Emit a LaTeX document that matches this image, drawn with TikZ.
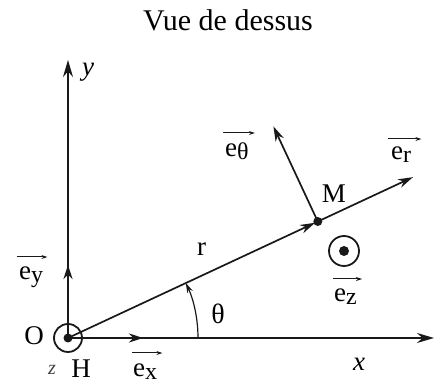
\documentclass[tikz,border=0pt]{standalone}
\usepackage{fontspec}
\setmainfont{Liberation Serif}
\usetikzlibrary{arrows.meta,calc}
\newcommand{\mysub}[1]{\raisebox{-3pt}{\fontsize{24}{24}\selectfont #1}}
\begin{document}
\begin{tikzpicture}[x=1pt,y=1pt,
  axis/.style={line width=1.8pt, draw=black!90},
  bigtip/.style={-{Stealth[length=17pt,width=10pt]}},
  unitvec/.style={line width=2.4pt, draw=black!90, -{Stealth[length=14pt,width=9pt]}},
  polvec/.style={line width=1.7pt, draw=black!90, -{Stealth[length=15pt,width=9pt]}},
  lab/.style={inner sep=0pt, font=\fontsize{27}{27}\selectfont},
  veca/.style={line width=1pt, draw=black!90, -{Stealth[length=6pt,width=4pt]}},
]
\useasboundingbox (0,0) rectangle (442,387);
% key points
\coordinate (O) at (68,49);
\coordinate (Ytip) at (68,327);
\coordinate (Xtip) at (434,49);
\coordinate (Ey) at (68,122);
\coordinate (Ex) at (143,49);
\coordinate (M) at ($(O)+(25:275.6)$);
\coordinate (Er) at ($(M)+(25:105)$);
\coordinate (Et) at ($(M)+(115:105)$);
\coordinate (Ez) at (344,136);
\coordinate (A0) at ($(O)+(130,0)$);

% title
\node[lab, font=\fontsize{30}{30}\selectfont, anchor=base] (title) at (228,356) {Vue de dessus};

% axes
\draw[axis, bigtip] (O) -- (Ytip);
\draw[axis, bigtip] (O) -- (Xtip);
\draw[unitvec] (O) -- (Ey);
\draw[unitvec] (O) -- (Ex);

% circle at O (z axis towards reader)
\draw[line width=1.8pt, draw=black!90] (O) circle[radius=14];
\fill[black!90] (O) circle[radius=4.5];

% r line and point M
\draw[polvec, shorten >=3pt] (O) -- (M);
\fill[black!90] (M) circle[radius=4.5];
\draw[polvec] (M) -- (Er);
\draw[polvec] (M) -- (Et);

% angle arc
\draw[line width=1.2pt, draw=black!90, -{Stealth[length=10pt,width=6pt]}] (A0) arc[start angle=0, end angle=25, radius=130];

% e_z symbol
\draw[line width=1.8pt, draw=black!90] (Ez) circle[radius=15];
\fill[black!90] (Ez) circle[radius=5];

% labels
\node[lab, anchor=base west] (ylab) at (82,311) {\itshape y};
\node[lab, anchor=base west] (xlab) at (353,16) {\itshape x};
\node[lab, anchor=base] (Olab) at (34,42) {O};
\node[lab, font=\fontsize{20}{20}\selectfont, text=black!75, anchor=base] (zlab) at (52,12) {\itshape z};
\node[lab, anchor=base] (Hlab) at (81,9) {H};
\node[lab, anchor=base west] (rlab) at (197,131) {r};
\node[lab, font=\fontsize{28}{28}\selectfont, anchor=base] (tlab) at (218,63) {θ};
\node[lab, anchor=base] (Mlab) at (334,184) {M};

\node[lab, anchor=base west] (eylab) at (19,107) {e\mysub{y}};
\node[lab, anchor=base west] (exlab) at (133,10) {e\mysub{x}};
\node[lab, anchor=base west] (etlab) at (225,230) {e\mysub{θ}};
\node[lab, anchor=base west] (erlab) at (391,227) {e\mysub{r}};
\node[lab, anchor=base west] (ezlab) at (334,85) {e\mysub{z}};

% arrows over the vector labels
\draw[veca] ([xshift=-2pt,yshift=23pt]eylab.base west) -- ([xshift=4pt,yshift=23pt]eylab.base east);
\draw[veca] ([xshift=-1pt,yshift=24pt]exlab.base west) -- ([xshift=5pt,yshift=24pt]exlab.base east);
\draw[veca] ([xshift=-2pt,yshift=24pt]etlab.base west) -- ([xshift=6pt,yshift=24pt]etlab.base east);
\draw[veca] ([xshift=-3pt,yshift=21pt]erlab.base west) -- ([xshift=10pt,yshift=21pt]erlab.base east);
\draw[veca] ([xshift=-1pt,yshift=23pt]ezlab.base west) -- ([xshift=5pt,yshift=23pt]ezlab.base east);
\end{tikzpicture}
\end{document}
